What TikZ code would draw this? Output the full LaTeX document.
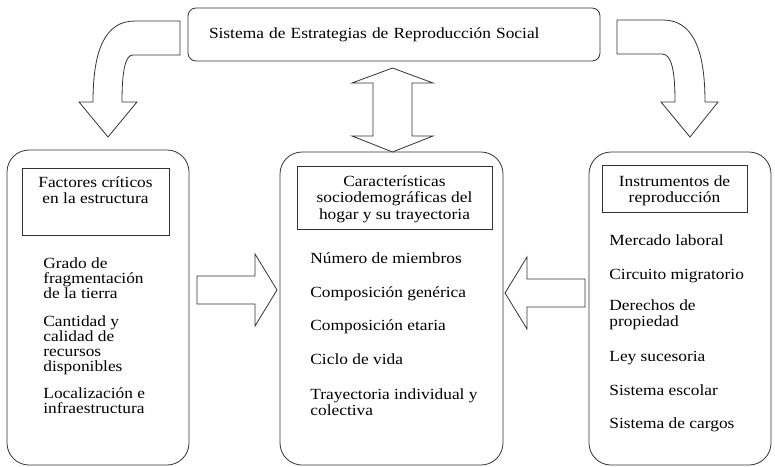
\documentclass[tikz,border=0pt]{standalone}
\usepackage{fontspec}
\setmainfont{Liberation Serif}[FakeStretch=1.12]
\usetikzlibrary{positioning,calc}

\begin{document}
\begin{tikzpicture}[
    x=1pt, y=-1pt,
    line width=0.8pt,
    font=\fontsize{15.5}{16.5}\selectfont,
    group/.style={rectangle, draw=black!80, rounded corners=22pt, inner sep=0pt},
    title/.style={rectangle, draw=black!80, rounded corners=8pt, inner sep=0pt},
    header/.style={rectangle, draw=black!80, inner sep=0pt},
    htext/.style={align=center, inner sep=0pt, anchor=north},
    items/.style={align=left, inner sep=0pt, anchor=north west},
    blockarrow/.style={draw=black!80, fill=white, line join=miter}
]
\useasboundingbox (0,0) rectangle (775,466);

% Top box
\node[title, minimum width=412pt, minimum height=53pt, text width=370pt, align=left] (srs) at (394,34.5) {Sistema de Estrategias de Reproducción Social};

% Groups
\node[group, minimum width=182pt, minimum height=315pt] (fac) at (98,307.5) {};
\node[group, minimum width=223pt, minimum height=313pt] (car) at (391.5,308.5) {};
\node[group, minimum width=182pt, minimum height=313pt] (ins) at (680,308.5) {};

% Headers
\node[header, minimum width=147pt, minimum height=67pt] (facH) at (95.5,201.5) {};
\node[htext] (facT) at (95.5,176.3) {Factores críticos\\en la estructura};
\node[header, minimum width=195pt, minimum height=63pt] (carH) at (394.5,197.5) {};
\node[htext] (carT) at (394.5,175.3) {Características\\sociodemográficas del\\hogar y su trayectoria};
\node[header, minimum width=145pt, minimum height=47pt] (insH) at (674.5,188.5) {};
\node[htext] (insT) at (674.5,175.3) {Instrumentos de\\reproducción};

% Items
\node[items, font=\fontsize{15.5}{15}\selectfont] (facL) at (43,257.3) {Grado de\\fragmentación\\de la tierra\\[13pt]Cantidad y\\calidad de\\recursos\\disponibles\\[12pt]Localización e\\infraestructura};
\node[items] (carL) at (310,252.3) {Número de miembros\\[17.5pt]Composición genérica\\[16.5pt]Composición etaria\\[17.5pt]Ciclo de vida\\[18.5pt]Trayectoria individual y\\colectiva};
\node[items] (insL) at (609,234.3) {Mercado laboral\\[17.5pt]Circuito migratorio\\[14.5pt]Derechos de\\propiedad\\[18.5pt]Ley sucesoria\\[17.5pt]Sistema escolar\\[16.5pt]Sistema de cargos};

% Curved arrows from the top box
\draw[blockarrow] (180,21) -- (135,21) .. controls (105,21) and (93,50) .. (93,102)
    -- (79,102) -- (108,137) -- (137,102) -- (122,102)
    .. controls (122,72) and (125,55) .. (133,55) -- (180,55) -- cycle;
\draw[blockarrow] (617,20) -- (663,20) .. controls (693,20) and (705,50) .. (705,102)
    -- (718,102) -- (690,137) -- (661,102) -- (675,102)
    .. controls (675,72) and (672,54) .. (662,54) -- (617,54) -- cycle;

% Double arrow
\draw[blockarrow] (392.5,68) -- (433,83) -- (412,83) -- (412,136) -- (433,136) -- (392.5,152)
    -- (352,136) -- (373,136) -- (373,83) -- (352,83) -- cycle;

% Side arrows
\draw[blockarrow] (197,276) -- (255,276) -- (255,254) -- (277,290) -- (255,326) -- (255,304) -- (197,304) -- cycle;
\draw[blockarrow] (585,279) -- (527,279) -- (527,257) -- (505,293) -- (527,329) -- (527,307) -- (585,307) -- cycle;

\end{tikzpicture}
\end{document}
